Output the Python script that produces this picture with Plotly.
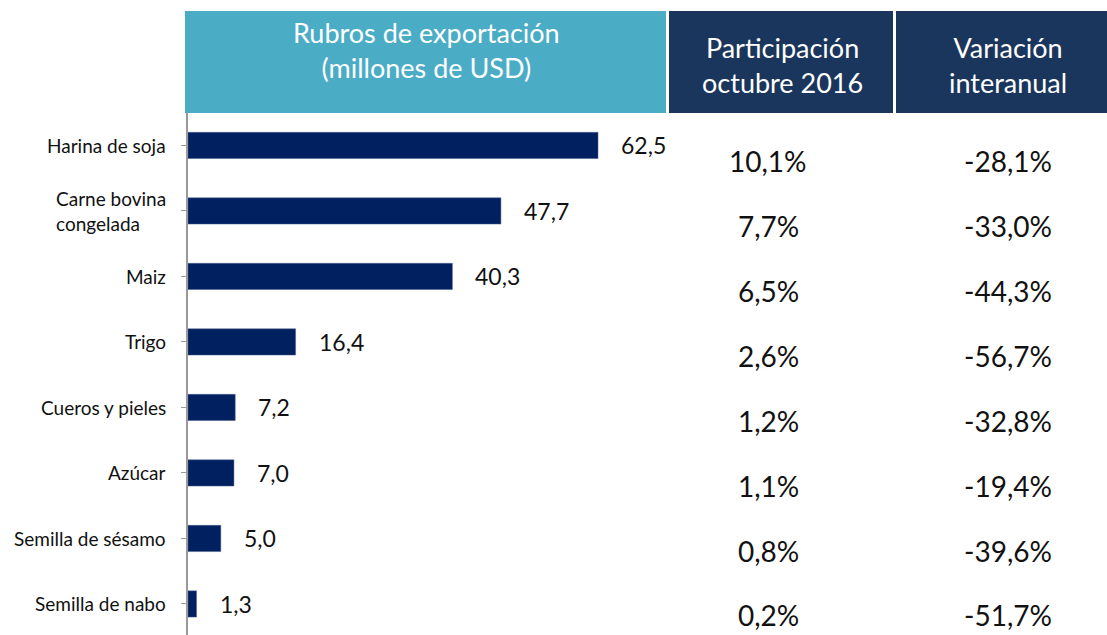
import plotly.graph_objects as go

categories = ["Harina de soja", "Carne bovina<br>congelada", "Maiz", "Trigo",
              "Cueros y pieles", "Azúcar", "Semilla de sésamo", "Semilla de nabo"]
values = [62.5, 47.7, 40.3, 16.4, 7.2, 7.0, 5.0, 1.3]
participacion = ["10,1%", "7,7%", "6,5%", "2,6%", "1,2%", "1,1%", "0,8%", "0,2%"]
variacion = ["-28,1%", "-33,0%", "-44,3%", "-56,7%", "-32,8%", "-19,4%", "-39,6%", "-51,7%"]
headers = ["Rubros de exportación<br>(millones de USD)", "Participación<br>octubre 2016", "Variación<br>interanual"]

W, H = 1107, 635
FONT = "Lato"
NAVY_BAR = "#002060"
NAVY_HDR = "#1B365D"
TEAL = "#4BACC6"

idx = list(range(len(categories)))

fig = go.Figure()
fig.add_trace(go.Bar(
    x=values, y=idx, orientation="h", width=0.4,
    marker=dict(color=NAVY_BAR, line=dict(color="#4a5f8a", width=0.5)),
    hoverinfo="skip", showlegend=False,
))

annotations = []
n = len(categories)
for i, (c, v, p, vr) in enumerate(zip(categories, values, participacion, variacion)):
    ysh = -16 + i * 4.5 / (n - 1)
    annotations.append(dict(x=168 / W, xref="paper", y=i, yref="y", text=c,
                            xanchor="right", yanchor="middle", align="left", showarrow=False,
                            font=dict(family=FONT, size=19, color="#111111")))
    annotations.append(dict(x=v, xref="x", y=i, yref="y", text=f"{v:.1f}".replace(".", ","),
                            xanchor="left", yanchor="middle", xshift=21, showarrow=False,
                            font=dict(family=FONT, size=23, color="#111111")))
    annotations.append(dict(x=768 / W, xref="paper", y=i, yref="y", yshift=ysh, text=p,
                            xanchor="center", yanchor="middle", showarrow=False,
                            font=dict(family=FONT, size=28, color="#111111")))
    annotations.append(dict(x=1008 / W, xref="paper", y=i, yref="y", yshift=ysh, text=vr,
                            xanchor="center", yanchor="middle", showarrow=False,
                            font=dict(family=FONT, size=28, color="#111111")))

# header boxes
boxes = [(185, 666, TEAL), (669, 893, NAVY_HDR), (896, 1107, NAVY_HDR)]
shapes = []
for x0, x1, col in boxes:
    shapes.append(dict(type="rect", xref="paper", yref="paper",
                       x0=x0 / W, x1=x1 / W, y0=1 - 113 / H, y1=1 - 11 / H,
                       fillcolor=col, line=dict(width=0), layer="below"))

hdr_pos = [(426, 50), (782, 65), (1008, 65)]
for (hx, hy), txt in zip(hdr_pos, headers):
    annotations.append(dict(x=hx / W, xref="paper", y=1 - hy / H, yref="paper", text=txt,
                            xanchor="center", yanchor="middle", align="center", showarrow=False,
                            font=dict(family=FONT, size=27, color="white")))

fig.update_layout(
    width=W, height=H,
    margin=dict(l=0, r=0, t=0, b=0),
    plot_bgcolor="white", paper_bgcolor="white",
    shapes=shapes, annotations=annotations,
    xaxis=dict(domain=[188 / W, 1], range=[0, (W - 188) / 6.56], visible=False, fixedrange=True),
    yaxis=dict(domain=[0, 1 - 112.7 / H], range=[7.474, -0.5], tickvals=idx,
               showticklabels=False, showline=True, linecolor="#999999", linewidth=2,
               ticks="outside", tickson="boundaries", ticklen=5, tickcolor="#999999",
               showgrid=False, zeroline=False, automargin=False, fixedrange=True),
    bargap=0.6,
)

fig.write_html("out.html", config={"displayModeBar": False},
               post_script="document.body.style.margin='0';document.body.style.overflow='hidden';")
